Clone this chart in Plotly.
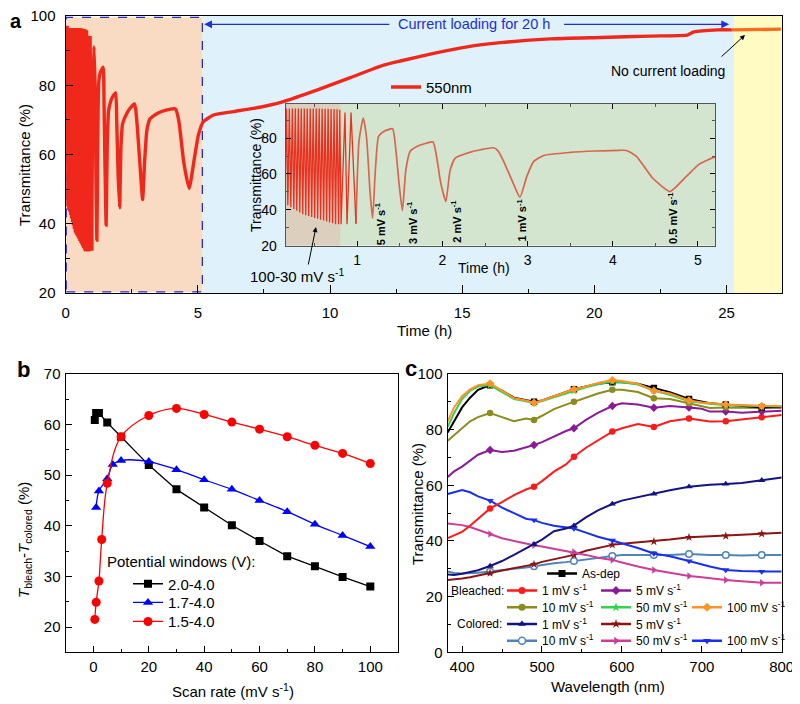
import plotly.graph_objects as go

# The page body has an 8 px default margin, so the figure is drawn 8 px in from
# the top-left corner of the window; page pixel p maps to figure pixel p - 8.
OFF = 8
W, H = 800 - OFF, 704 - OFF
FONT = "Liberation Sans, Arial, Helvetica, sans-serif"


def fx(p):
    return (p - OFF) / W


def fy(p):
    return 1 - (p - OFF) / H


# ---------------- Panel a data (550 nm transmittance vs time) ----------------
DENSE_PEAK_T = [0.06, 0.098, 0.133, 0.168, 0.203, 0.238, 0.273, 0.308, 0.343, 0.378, 0.413, 0.448,
                0.483, 0.518, 0.553, 0.588, 0.623, 0.658, 0.693, 0.728, 0.763, 0.795, 0.856, 0.927]
DENSE_PEAK_V = [96.7, 96.5, 96.5, 96.5, 96.5, 96.5, 96.5, 96.5, 96.5, 96.5, 96.5, 96.5,
                96.5, 96.5, 96.5, 96.4, 96.4, 96.3, 96.2, 96.2, 96.0, 95.8, 94.3, 94.2]
DENSE_TROUGH_T = [0.08, 0.115, 0.15, 0.185, 0.22, 0.255, 0.29, 0.325, 0.36, 0.395, 0.43, 0.465,
                  0.50, 0.535, 0.57, 0.605, 0.64, 0.675, 0.71, 0.745, 0.78, 0.81, 0.88, 0.985]
DENSE_TROUGH_V = [45.0, 44.0, 43.5, 42.5, 41.5, 40.5, 39.5, 38.5, 37.5, 37.0, 36.5, 36.0,
                  35.5, 35.0, 34.5, 34.0, 33.5, 33.0, 32.5, 32.0, 32.0, 32.0, 32.0, 32.3]
SLOW_T = [1.02, 1.07, 1.11, 1.15, 1.18, 1.21, 1.25, 1.31, 1.415, 1.45, 1.49, 1.53, 1.57, 1.62,
          1.70, 1.80, 1.89, 1.93, 1.98, 2.04, 2.09, 2.15, 2.32, 2.45, 2.60, 2.65, 2.71, 2.83,
          2.91, 2.99, 3.07, 3.19, 3.50, 3.80, 4.08, 4.16, 4.28, 4.47, 4.67, 4.86, 5.02, 5.20]
SLOW_V = [78.0, 91.2, 80.0, 50.0, 35.3, 60.0, 80.9, 83.7, 85.2, 75.0, 55.0, 39.6, 62.0, 72.5,
          75.3, 77.0, 77.8, 70.0, 55.0, 44.6, 62.0, 68.8, 72.0, 73.5, 74.6, 73.0, 67.9, 54.9,
          47.0, 58.5, 66.9, 70.3, 72.0, 72.8, 73.2, 73.1, 69.7, 57.6, 50.2, 58.5, 65.6, 69.4]
LOAD_T = [5.59, 6.35, 7.1, 8.24, 9.5, 10.77, 12.03, 12.66, 13.92, 15.19, 16.45, 18.34, 20.24,
          22.13, 23.52, 23.6, 23.77, 24.66, 25.2]
LOAD_V = [71.4, 72.4, 73.3, 75.3, 78.6, 82.2, 85.8, 87.0, 89.2, 91.1, 92.3, 93.4, 93.8,
          94.2, 94.5, 94.8, 95.4, 96.0, 96.0]
NOLOAD_T = [25.2, 26.1, 27.06]
NOLOAD_V = [96.0, 96.1, 96.2]

INSET_RATE_LABELS = ["5 mV s<sup>-1</sup>", "3 mV s<sup>-1</sup>", "2 mV s<sup>-1</sup>",
                     "1 mV s<sup>-1</sup>", "0.5 mV s<sup>-1</sup>"]
INSET_LABEL_T = [1.27, 1.65, 2.16, 2.93, 4.70]
INSET_LABEL_V = [32.1, 33.0, 33.4, 34.4, 35.7]

# ---------------- Panel b data ----------------
RATE_20 = [0.5, 1, 2, 5, 10, 20, 30, 40, 50, 60, 70, 80, 90, 100]
DT_20 = [60.9, 62.3, 62.3, 60.4, 57.6, 52.0, 47.2, 43.6, 40.1, 37.0, 34.0, 32.0, 29.9, 28.0]
RATE_17 = [1, 2, 5, 7, 10, 20, 30, 40, 50, 60, 70, 80, 90, 100]
DT_17 = [43.6, 46.9, 49.3, 52.1, 52.9, 52.7, 51.1, 49.1, 47.2, 45.0, 42.8, 40.3, 38.1, 35.9]
RATE_15 = [0.5, 1, 2, 3, 5, 10, 20, 30, 40, 50, 60, 70, 80, 90, 100]
DT_15 = [21.5, 24.9, 29.1, 37.3, 48.4, 57.6, 61.8, 63.2, 62.0, 60.5, 59.1, 57.6, 55.9, 54.3, 52.3]
WINDOWS = ["2.0-4.0", "1.7-4.0", "1.5-4.0"]

# ---------------- Panel c data (spectra) ----------------
WL = [382, 390, 400, 410, 420, 435, 450, 465, 480, 490, 500, 515, 530, 540, 555, 570, 588,
      600, 620, 640, 660, 684, 700, 710, 730, 750, 775, 800]
ASDEP = [79, 83, 88, 91.5, 94.3, 96, 94, 91.5, 90.5, 90, 90.5, 92, 93.5, 94.5, 95.5, 96.5, 97,
         97, 96.5, 95, 93.5, 91, 90, 89.5, 89, 88.5, 88, 88]
B1 = [41, 42, 43.3, 45.5, 48, 51.7, 54, 56.5, 58.5, 59.5, 61.5, 64.9, 67.5, 70.3, 73.5, 76, 79.3,
      80.5, 82, 81, 83, 84, 83.3, 82.9, 83, 83.7, 84.5, 85.3]
B5 = [63, 65, 66.7, 69, 71, 72.7, 72, 72.4, 73.5, 74.5, 75.5, 77.5, 79.5, 80.5, 83.5, 86, 88.5,
      89.5, 89, 87.9, 88.5, 88, 87.5, 86.5, 86.5, 86.1, 86.5, 86.8]
B10 = [76, 78, 80.5, 83, 84.5, 86, 84.5, 83, 84, 83.5, 85, 87.4, 89, 90, 91.5, 93, 94.3,
       94.3, 93.5, 91.3, 91, 89.5, 88.5, 87.8, 88, 88, 87.8, 88.5]
B50 = [81, 86, 91, 94, 95.5, 96, 93.5, 91, 90.2, 89.5, 90.3, 91.6, 93, 94, 95.2, 96.3, 97.3,
       97, 96.2, 94, 92.5, 90.2, 89.5, 89.3, 88.8, 88.6, 88.3, 88.3]
B100 = [83, 88, 92, 94.5, 96, 96.6, 94, 91.3, 90.5, 89.7, 90.5, 91.9, 93.5, 94.5, 95.5, 96.8, 97.8,
        97.5, 96.5, 94, 93, 90.5, 89.8, 89.5, 89, 88.9, 88.5, 88.5]
C1 = [28, 27.8, 28.2, 28.8, 29.5, 31, 32.8, 35, 37.3, 38.8, 40.5, 43.5, 44.5, 45.5, 48.5, 51, 53.3,
      54.5, 55.8, 56.9, 58.2, 59.5, 60, 60.2, 60.5, 60.8, 61.8, 62.8]
C5 = [26, 26.2, 26.5, 27, 27.5, 28.5, 29.4, 30.2, 31, 31.6, 32.5, 33.5, 34.5, 35, 36.5, 37.5, 38.6,
      39, 39.5, 39.8, 40.5, 41.3, 41.5, 41.5, 41.8, 42.2, 42.6, 43]
C10 = [29, 28.5, 28.3, 28.4, 28.6, 29, 29.6, 30, 30.5, 30.9, 31.5, 32, 32.4, 32.8, 33.5, 34, 34.6,
       35, 35, 35, 35, 35.3, 35, 35, 35, 34.8, 35, 35]
C50 = [46.3, 46, 45.7, 45, 44, 42.5, 41, 40, 39, 38.5, 38, 37.2, 36.5, 36, 35, 34, 33.2,
       32.3, 30.8, 29.6, 28.5, 27.4, 27, 26.6, 26, 25.5, 25, 25]
C100 = [56.9, 57.5, 58.3, 57.5, 56, 54.5, 52, 50, 48, 47.5, 46.5, 45.5, 44.8, 44.5, 43, 41.5, 40.2,
        39.2, 37.5, 35.5, 34.5, 32.8, 31.5, 30.8, 29.6, 29.2, 29, 29]
MARK_WL = [435, 490, 540, 588, 640, 684, 730, 775]

SPECTRA = [
    # name, values, color, symbol, legend-line-left-px, legend-row-py (page pixels)
    ("As-dep", ASDEP, "#000000", "square", 547, 573.5),
    ("1 mV s<sup>-1</sup>", B1, "#ff1a1a", "circle", 507, 590.5),
    ("5 mV s<sup>-1</sup>", B5, "#8b1a96", "diamond", 601, 590.5),
    ("10 mV s<sup>-1</sup>", B10, "#8c8c1e", "circle", 507, 607.3),
    ("50 mV s<sup>-1</sup>", B50, "#33d14d", "star", 601, 607.3),
    ("100 mV s<sup>-1</sup>", B100, "#ff9326", "diamond", 692, 607.3),
    ("1 mV s<sup>-1</sup>", C1, "#141480", "triangle-up", 507, 624),
    ("5 mV s<sup>-1</sup>", C5, "#8b1414", "star", 601, 624),
    ("10 mV s<sup>-1</sup>", C10, "#4f84b8", "circle-open", 507, 640.7),
    ("50 mV s<sup>-1</sup>", C50, "#cc3d99", "triangle-right", 601, 640.7),
    ("100 mV s<sup>-1</sup>", C100, "#1a2ef0", "triangle-down", 692, 640.7),
]
DRAW_ORDER = [8, 7, 9, 10, 6, 1, 2, 3, 0, 4, 5]

# ---------------- assemble panel a series ----------------
dense_t, dense_v = [0.0], [96.7]
for pt, pv, tt, tv in zip(DENSE_PEAK_T, DENSE_PEAK_V, DENSE_TROUGH_T, DENSE_TROUGH_V):
    dense_t += [pt, tt]
    dense_v += [pv, tv]
slow_t = [DENSE_TROUGH_T[-1]] + SLOW_T + LOAD_T
slow_v = [DENSE_TROUGH_V[-1]] + SLOW_V + LOAD_V

fig = go.Figure()

RED = "#f0281c"
fig.add_trace(go.Scatter(x=dense_t, y=dense_v, mode="lines", showlegend=False,
                         line=dict(color=RED, width=3.2), xaxis="x", yaxis="y"))
fig.add_trace(go.Scatter(x=slow_t, y=slow_v, mode="lines", name="550nm",
                         line=dict(color=RED, width=3.4, shape="spline", smoothing=0.5),
                         legend="legend", xaxis="x", yaxis="y"))
fig.add_trace(go.Scatter(x=NOLOAD_T, y=NOLOAD_V, mode="lines", showlegend=False,
                         line=dict(color="#ff6a1e", width=3.4), xaxis="x", yaxis="y"))
# inset
fig.add_trace(go.Scatter(x=slow_t, y=slow_v, mode="lines", showlegend=False,
                         line=dict(color="#d9654f", width=1.7, shape="spline", smoothing=0.5),
                         xaxis="x2", yaxis="y2"))
fig.add_trace(go.Scatter(x=dense_t, y=dense_v, mode="lines", showlegend=False,
                         line=dict(color="#e8321f", width=1.3), xaxis="x2", yaxis="y2"))

# panel b
legend_layouts = {}
for j, (rx, ry, col, sym, nm, shape, ms) in enumerate([
    (RATE_20, DT_20, "#000000", "square", WINDOWS[0], "linear", 8),
    (RATE_17, DT_17, "#0000ff", "triangle-up", WINDOWS[1], "spline", 9),
    (RATE_15, DT_15, "#ff0000", "circle", WINDOWS[2], "spline", 9),
]):
    key = "legend%d" % (20 + j)
    fig.add_trace(go.Scatter(x=rx, y=ry, mode="lines+markers", name=nm, legend=key,
                             line=dict(color=col, width=1.3, shape=shape),
                             marker=dict(symbol=sym, size=ms, color=col),
                             xaxis="x3", yaxis="y3"))
    legend_layouts[key] = dict(x=fx(133 - 5), y=fy([584, 602.7, 621.7][j]),
                               xanchor="left", yanchor="middle", bgcolor="rgba(0,0,0,0)",
                               font=dict(family=FONT, size=15, color="#000"))

# panel c
mark_idx = [WL.index(w) for w in MARK_WL]


def marker_of(sym, col, size=6.5):
    open_ = sym.endswith("open")
    return dict(symbol=sym.replace("-open", ""), size=size, color="white" if open_ else col,
                line=dict(color=col, width=1.5 if open_ else 0))


for i in DRAW_ORDER:
    nm, vals, col, sym, lx, ly = SPECTRA[i]
    fig.add_trace(go.Scatter(x=WL, y=vals, mode="lines", showlegend=False,
                             line=dict(color=col, width=2), xaxis="x4", yaxis="y4"))
    fig.add_trace(go.Scatter(x=[WL[k] for k in mark_idx], y=[vals[k] for k in mark_idx],
                             mode="markers", showlegend=False, marker=marker_of(sym, col),
                             xaxis="x4", yaxis="y4"))
for i, (nm, vals, col, sym, lx, ly) in enumerate(SPECTRA):
    key = "legend%d" % (i + 3)
    fig.add_trace(go.Scatter(x=[None], y=[None], mode="lines+markers", name=nm, legend=key,
                             line=dict(color=col, width=2.5), marker=marker_of(sym, col, 7),
                             xaxis="x4", yaxis="y4"))
    legend_layouts[key] = dict(x=fx(lx - 5), y=fy(ly), xanchor="left", yanchor="middle",
                               bgcolor="rgba(0,0,0,0)", borderwidth=0,
                               font=dict(family=FONT, size=12, color="#000"))


# ---------------- axes ----------------
def ax_common(**kw):
    d = dict(showline=True, linecolor="#000", linewidth=1.4, mirror=True, ticks="inside",
             tickcolor="#000", showgrid=False, zeroline=False, ticklabeloverflow="allow",
             tickfont=dict(family=FONT, size=15, color="#000"))
    d.update(kw)
    return d


def minor(dt, ln=4, col="#000"):
    return dict(dtick=dt, ticklen=ln, ticks="inside", tickcolor=col)


layout = dict(
    width=W, height=H, margin=dict(l=0, r=0, t=0, b=0, autoexpand=False),
    paper_bgcolor="white", plot_bgcolor="white",
    font=dict(family=FONT, color="#000"),
    xaxis=ax_common(domain=[fx(65.7), fx(782)], range=[0, 27.1], dtick=5, ticklen=8,
                    minor=minor(2.5), ticklabelstandoff=6, anchor="y"),
    yaxis=ax_common(domain=[fy(293), fy(16)], range=[20, 100], dtick=20, ticklen=7,
                    minor=minor(10), ticklabelstandoff=6, anchor="x"),
    xaxis2=ax_common(domain=[fx(285.7), fx(715)], range=[0.16, 5.2], dtick=1, ticklen=5,
                     linewidth=1, linecolor="#555", mirror="allticks",
                     minor=minor(0.5, 3, "#555"),
                     tickfont=dict(family=FONT, size=14, color="#000"),
                     ticklabelstandoff=1, anchor="y2"),
    yaxis2=ax_common(domain=[fy(245.7), fy(104)], range=[20, 99], dtick=20, ticklen=5,
                     linewidth=1, linecolor="#555", mirror="allticks",
                     minor=minor(10, 3, "#555"),
                     tickfont=dict(family=FONT, size=14, color="#000"),
                     ticklabelstandoff=5, anchor="x2"),
    xaxis3=ax_common(domain=[fx(65.7), fx(398)], range=[-10, 110], dtick=20, ticklen=6,
                     minor=minor(10, 3), ticklabelstandoff=0, anchor="y3"),
    yaxis3=ax_common(domain=[fy(652.3), fy(374)], range=[15, 70], dtick=10, ticklen=6,
                     minor=minor(5, 3), ticklabelstandoff=1, anchor="x3"),
    xaxis4=ax_common(domain=[fx(447.7), fx(781.7)], range=[382, 800], dtick=100, ticklen=6,
                     minor=minor(50, 3), ticklabelstandoff=0, anchor="y4"),
    yaxis4=ax_common(domain=[fy(652.3), fy(374)], range=[0, 100], dtick=20, ticklen=6,
                     minor=minor(10, 3), ticklabelstandoff=1, anchor="x4"),
    legend=dict(x=fx(391 - 5), y=fy(87.3), xanchor="left", yanchor="middle",
                bgcolor="rgba(0,0,0,0)", font=dict(family=FONT, size=15, color="#000")),
)
layout.update(legend_layouts)
fig.update_layout(**layout)

# ---------------- background shapes ----------------
shapes = [
    dict(type="rect", xref="x", yref="y", x0=5.17, x1=25.28, y0=20, y1=100, layer="below",
         fillcolor="#dff1fb", line=dict(width=0)),
    dict(type="rect", xref="x", yref="y", x0=25.28, x1=27.1, y0=20, y1=100, layer="below",
         fillcolor="#fffbc2", line=dict(width=0)),
    dict(type="rect", xref="x", yref="y", x0=0.02, x1=5.17, y0=20.3, y1=99.6, layer="below",
         fillcolor="#f9dbc4", line=dict(color="#2a2ac8", width=1.3, dash="dash")),
    dict(type="rect", xref="x2", yref="y2", x0=0.16, x1=5.2, y0=20, y1=99, layer="below",
         fillcolor="#d4e5cf", line=dict(width=0)),
    dict(type="rect", xref="x2", yref="y2", x0=0.16, x1=0.8, y0=20, y1=99, layer="below",
         fillcolor="#ddcfbd", line=dict(width=0)),
]
fig.update_layout(shapes=shapes)


# ---------------- annotations ----------------
def ptxt(text, px, py, size=15, **kw):
    d = dict(text=text, x=fx(px), y=fy(py), xref="paper", yref="paper", showarrow=False,
             font=dict(family=FONT, size=size, color=kw.pop("color", "#000")),
             xanchor=kw.pop("xanchor", "center"), yanchor=kw.pop("yanchor", "middle"))
    d.update(kw)
    return d


ann = [
    ptxt("<b>a</b>", 16, 20.5, size=20),
    ptxt("<b>b</b>", 23.5, 370, size=22),
    ptxt("<b>c</b>", 411, 368, size=22),
    ptxt("Transmittance (%)", 25, 165, textangle=-90),
    ptxt("Time (h)", 424, 330),
    ptxt("Transmittance (%)", 256, 175, size=14, textangle=-90),
    ptxt("Time (h)", 484, 268.3, size=14),
    ptxt("100-30 mV s<sup>-1</sup>", 297, 275),
    ptxt("<i>T</i><sub>bleach</sub>-<i>T</i><sub>colored</sub> (%)", 24, 540, textangle=-90),
    ptxt("Scan rate (mV s<sup>-1</sup>)", 233, 690),
    ptxt("Potential windows (V):", 105, 561, xanchor="left"),
    ptxt("Transmittance (%)", 417, 504, textangle=-90),
    ptxt("Wavelength (nm)", 608, 686.7),
    ptxt("Bleached:", 449, 590.5, size=12, xanchor="left"),
    ptxt("Colored:", 455, 624, size=12, xanchor="left"),
    dict(x=5.24, y=97.6, ax=12.3, ay=97.6, xref="x", yref="y", axref="x", ayref="y", text="",
         showarrow=True, arrowhead=2, arrowsize=1.2, arrowwidth=1.3, arrowcolor="#1c2fd8"),
    dict(x=25.1, y=97.6, ax=18.8, ay=97.6, xref="x", yref="y", axref="x", ayref="y", text="",
         showarrow=True, arrowhead=2, arrowsize=1.2, arrowwidth=1.3, arrowcolor="#1c2fd8"),
    dict(x=15.45, y=97.6, xref="x", yref="y", text="Current loading for 20 h", showarrow=False,
         font=dict(family=FONT, size=14.5, color="#1c2fd8")),
    dict(x=22.8, y=84.2, xref="x", yref="y", text="No current loading", showarrow=False,
         font=dict(family=FONT, size=14, color="#000")),
    dict(x=fx(745), y=fy(35), xref="paper", yref="paper", ax=-25, ay=23, text="",
         showarrow=True, arrowhead=2, arrowsize=1, arrowwidth=1, arrowcolor="#000"),
    dict(x=fx(316), y=fy(227), xref="paper", yref="paper", ax=-8, ay=39, text="",
         showarrow=True, arrowhead=2, arrowsize=1, arrowwidth=1, arrowcolor="#000"),
]
for lab, tx, tv in zip(INSET_RATE_LABELS, INSET_LABEL_T, INSET_LABEL_V):
    ann.append(dict(x=tx, y=tv, xref="x2", yref="y2", text="<b>" + lab + "</b>", showarrow=False,
                    textangle=-90, font=dict(family=FONT, size=11, color="#000")))
fig.update_layout(annotations=ann)

fig.write_html("out.html")
